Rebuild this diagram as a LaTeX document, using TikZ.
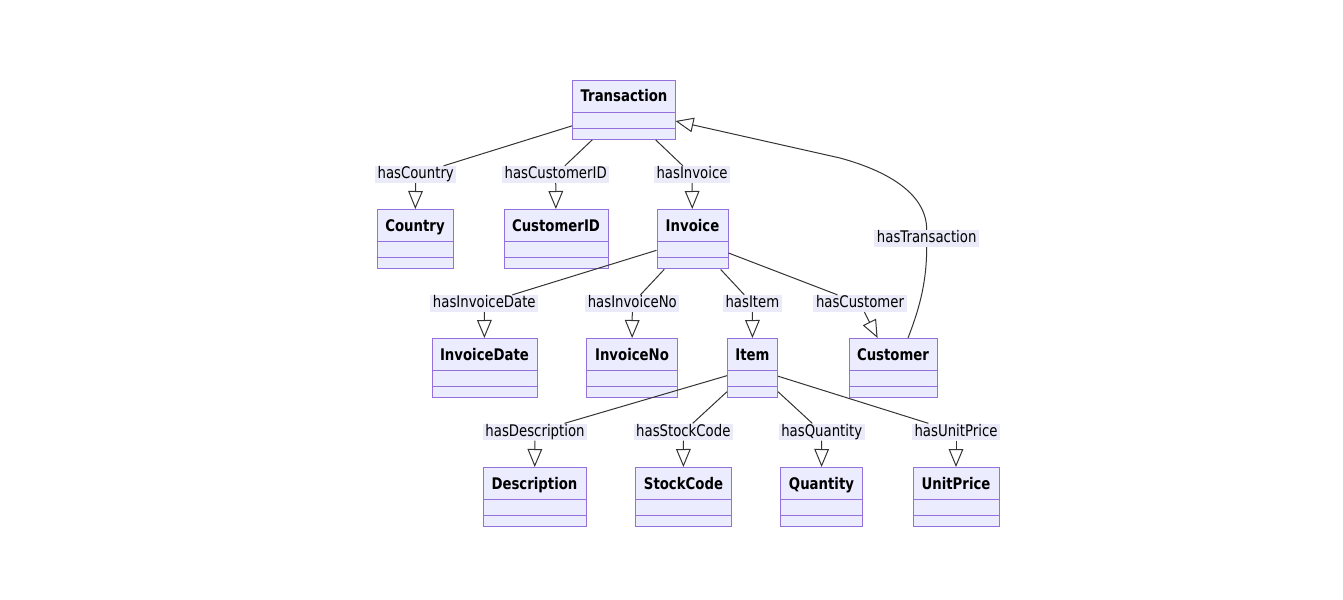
\documentclass[tikz,border=0pt]{standalone}
\usepackage{fontspec}
\setmainfont{DejaVu Sans}[FakeStretch=0.83]
\usetikzlibrary{shapes.multipart,arrows.meta}
\definecolor{umlfill}{HTML}{ECECFF}
\definecolor{umlline}{HTML}{9370DB}
\definecolor{lblfill}{HTML}{EAEAF8}
\definecolor{edgecol}{HTML}{333333}
\tikzset{
  umlclass/.style={rectangle split, rectangle split parts=3, draw=umlline, fill=umlfill,
    line width=0.75pt, inner xsep=6pt, inner ysep=0pt, anchor=north,
    font=\fontsize{12pt}{14pt}\selectfont\bfseries},
  rel/.style={fill=lblfill, inner xsep=1.9pt, inner ysep=0.3pt, text height=9.2pt,
    text depth=2.8pt, font=\fontsize{12pt}{14pt}\selectfont},
  edge/.style={draw=edgecol, line width=0.75pt},
  isa/.style={edge, -{Triangle[open, length=13.5pt, width=11pt]}}
}
\newcommand{\umlbox}[1]{\rule[-7.2pt]{0pt}{23.3pt}#1\nodepart{second}\rule{0pt}{11.3pt}\nodepart{third}\rule{0pt}{7.7pt}}
\begin{document}
\begin{tikzpicture}[x=0.75pt, y=-0.75pt]
  \useasboundingbox (0,0) rectangle (1343,600);

  \node[umlclass, minimum width=76.5pt] (tr) at (624,79.5) {\umlbox{Transaction}};
  \node[umlclass, minimum width=57pt] (co) at (415,209) {\umlbox{Country}};
  \node[umlclass, minimum width=78pt] (cid) at (556,209) {\umlbox{CustomerID}};
  \node[umlclass, minimum width=53.25pt] (inv) at (692.5,209) {\umlbox{Invoice}};
  \node[umlclass, minimum width=78.75pt] (idate) at (484.5,338) {\umlbox{InvoiceDate}};
  \node[umlclass, minimum width=68.25pt] (ino) at (632,338) {\umlbox{InvoiceNo}};
  \node[umlclass, minimum width=37.5pt] (item) at (752.5,338) {\umlbox{Item}};
  \node[umlclass, minimum width=66pt] (cu) at (893,338) {\umlbox{Customer}};
  \node[umlclass, minimum width=77.25pt] (desc) at (534.5,467) {\umlbox{Description}};
  \node[umlclass, minimum width=71.25pt] (sc) at (683.5,467) {\umlbox{StockCode}};
  \node[umlclass, minimum width=60.75pt] (qty) at (821.5,467) {\umlbox{Quantity}};
  \node[umlclass, minimum width=64.5pt] (up) at (956,467) {\umlbox{UnitPrice}};

  \node[rel] (lco) at (415.7,174.5) {hasCountry};
  \node[rel] (lcid) at (555.7,174.5) {hasCustomerID};
  \node[rel] (linv) at (692,174.5) {hasInvoice};
  \node[rel] (lidate) at (484.3,303.5) {hasInvoiceDate};
  \node[rel] (lino) at (632.3,303.5) {hasInvoiceNo};
  \node[rel] (litem) at (752.4,303.5) {hasItem};
  \node[rel] (lcu) at (860,303.5) {hasCustomer};
  \node[rel] (ldesc) at (535,432) {hasDescription};
  \node[rel] (lsc) at (683.3,432) {hasStockCode};
  \node[rel] (lqty) at (821.7,432) {hasQuantity};
  \node[rel] (lup) at (956,432) {hasUnitPrice};
  \node[rel] (ltr) at (926.7,238.5) {hasTransaction};
  \coordinate (trin) at (675.5,121);

  \draw[edge] (tr) -- (lco);     \draw[isa] (lco) -- (co);
  \draw[edge] (tr) -- (lcid);    \draw[isa] (lcid) -- (cid);
  \draw[edge] (tr) -- (linv);    \draw[isa] (linv) -- (inv);
  \draw[edge] (inv) -- (lidate); \draw[isa] (lidate) -- (idate);
  \draw[edge] (inv) -- (lino);   \draw[isa] (lino) -- (ino);
  \draw[edge] (inv) -- (litem);  \draw[isa] (litem) -- (item);
  \draw[edge] (inv) -- (lcu);    \draw[isa] (lcu) -- (cu);
  \draw[edge] (item) -- (ldesc); \draw[isa] (ldesc) -- (desc);
  \draw[edge] (item) -- (lsc);   \draw[isa] (lsc) -- (sc);
  \draw[edge] (item) -- (lqty);  \draw[isa] (lqty) -- (qty);
  \draw[edge] (item) -- (lup);   \draw[isa] (lup) -- (up);

  % back edge to Transaction
  \draw[edge] ([xshift=11.25pt]cu.north) .. controls (918,312) and (926.7,285) .. (ltr);
  \draw[isa] (ltr) .. controls (926.7,192) and (884,170) .. (840,158) -- (trin);
\end{tikzpicture}
\end{document}
